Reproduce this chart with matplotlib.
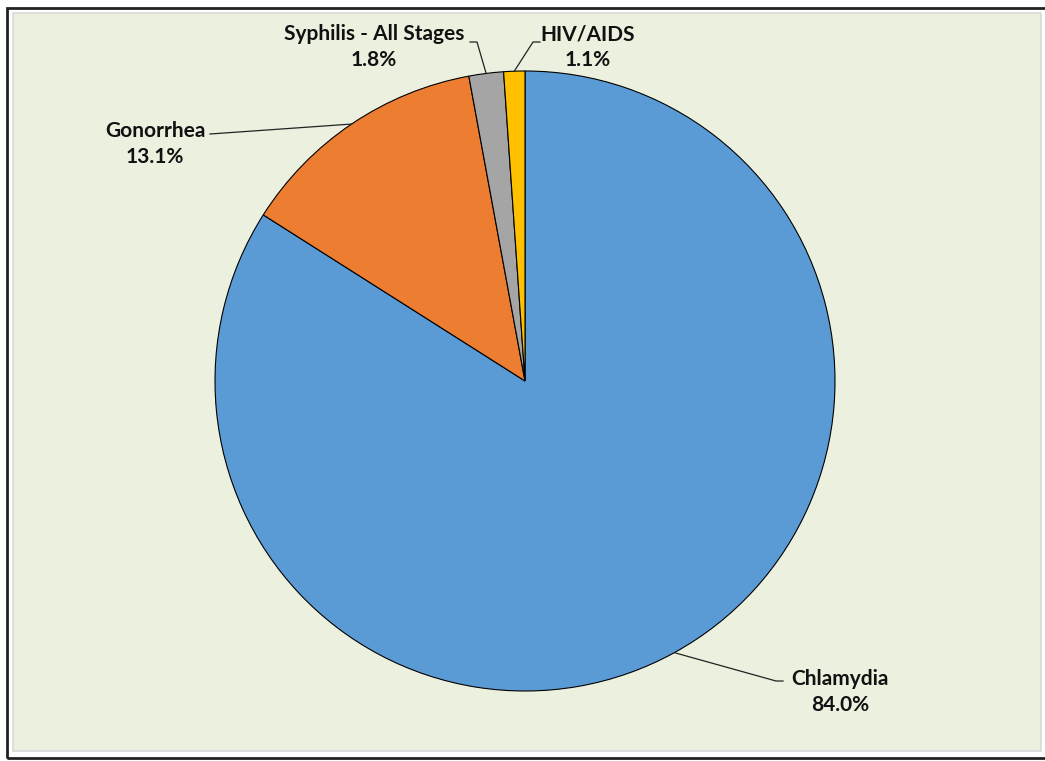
import matplotlib.pyplot as plt
import numpy as np
from matplotlib.patches import Rectangle

categories = ['Chlamydia', 'Gonorrhea', 'Syphilis - All Stages', 'HIV/AIDS']
shares = [84.0, 13.1, 1.8, 1.1]
colors = ['#5B9BD5', '#ED7D31', '#A5A5A5', '#FFC000']

W, H = 1045, 761
fig = plt.figure(figsize=(W / 100, H / 100), dpi=100)
ax = fig.add_axes([0, 0, 1, 1])
ax.set_xlim(0, W)
ax.set_ylim(0, H)
ax.axis('off')

# frame and plot area
ax.add_patch(Rectangle((7, 3.5), 1060, 750, facecolor='none', edgecolor='#222222', lw=2, zorder=0))
ax.add_patch(Rectangle((12.5, 10), 1028, 738, facecolor='#EBF0DF', edgecolor='#D9D9D9', lw=1.2, zorder=0))

cx, cy, r = 525, 380, 310
wedges, _ = ax.pie(shares, colors=colors, startangle=90, counterclock=False,
                   center=(cx, cy), radius=r, frame=True,
                   wedgeprops=dict(edgecolor='black', linewidth=0.8))
ax.set_xlim(0, W)
ax.set_ylim(0, H)
ax.axis('off')

# label anchor (where the leader ends), text centre, and leader elbow direction
label_pos = {
    'Chlamydia': ((783, 80), (840, 69), -1),
    'Gonorrhea': ((210, 627), (155, 617), 0),
    'Syphilis - All Stages': ((470, 719), (374, 714), 1),
    'HIV/AIDS': ((540, 719), (588, 714), -1),
}
leader_frac = {'Chlamydia': 0.5, 'Gonorrhea': 0.5, 'Syphilis - All Stages': 0.5, 'HIV/AIDS': 0.5}

for w, name, val in zip(wedges, categories, shares):
    mid = np.deg2rad((w.theta1 + w.theta2) / 2)
    ex, ey = cx + r * np.cos(mid), cy + r * np.sin(mid)
    (lx, ly), (tx, ty), elbow = label_pos[name]
    if elbow:
        kx = lx + elbow * 7
        ax.plot([ex, kx, lx], [ey, ly, ly], color='#222222', lw=0.9)
    else:
        ax.plot([ex, lx], [ey, ly], color='#222222', lw=0.9)
    ax.text(tx, ty, f'{name}\n{val:.1f}%', ha='center', va='center',
            fontsize=15, fontweight='bold', family='Lato', linespacing=1.35,
            color='#111111')

fig.savefig('out.png', dpi=100, facecolor='white')
